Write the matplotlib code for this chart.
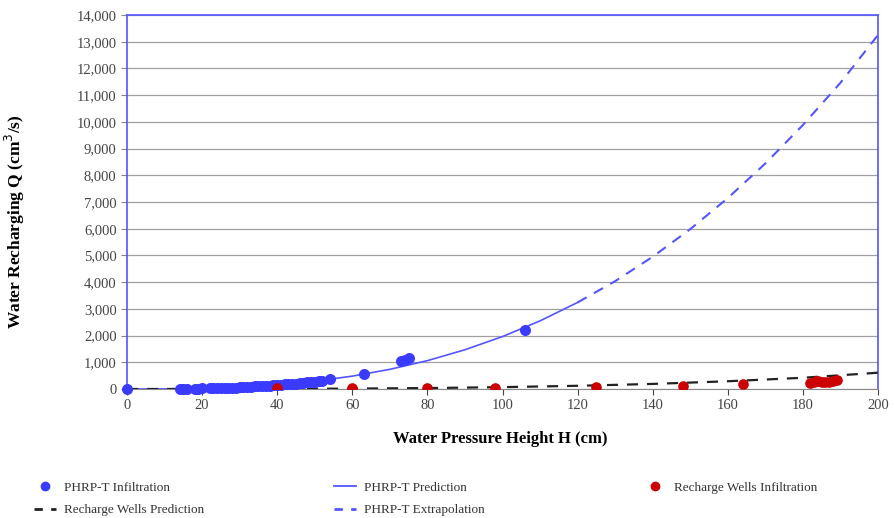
import matplotlib.pyplot as plt
from matplotlib.lines import Line2D
from matplotlib.ticker import FuncFormatter, MultipleLocator

plt.rcParams['font.family'] = ['Liberation Serif', 'DejaVu Serif']

# PHRP-T infiltration measurements (H cm, Q cm3/s)
phrp_h = [0, 14, 15, 16, 18, 19, 20, 22, 23, 24, 25, 26, 27, 28, 29, 30, 31, 32, 33,
          34, 35, 36, 37, 38, 39, 40, 41, 42, 43, 44, 45, 46, 47, 48, 49, 50, 51, 52,
          54, 63, 73, 74, 75, 106]
phrp_q = [0, 10, 12, 14, 15, 18, 20, 25, 28, 30, 35, 40, 45, 50, 55, 62, 70, 78, 85,
          95, 100, 110, 120, 130, 140, 150, 160, 170, 180, 195, 205, 220, 235, 250, 265,
          280, 295, 310, 370, 580, 1050, 1100, 1150, 2200]

# PHRP-T fitted curve: prediction (solid) and extrapolation (dashed)
pred_h = [0, 10, 20, 30, 40, 50, 60, 70, 80, 90, 100, 110, 120]
pred_q = [0, 3.5, 23.5, 72, 158, 292, 481, 736, 1061, 1469, 1963, 2550, 3240]
extr_h = [120, 130, 140, 150, 160, 170, 180, 190, 200]
extr_q = [3240, 4037, 4950, 5984, 7147, 8443, 9880, 11463, 13250]

# Recharge wells
rw_h = [40, 60, 80, 98, 125, 148, 164, 182, 183, 183.5, 184, 185, 186, 187, 188, 189]
rw_q = [30, 40, 30, 40, 70, 100, 190, 230, 260, 290, 300, 270, 260, 280, 300, 330]
rw_pred_h = [0, 20, 40, 60, 80, 100, 120, 140, 160, 180, 200]
rw_pred_q = [0, 1, 5, 15, 35, 70, 120, 190, 290, 420, 610]

fig = plt.figure(figsize=(8.94, 5.18), dpi=100)
ax = fig.add_axes([127/894, 1-389/518, (878-127)/894, (389-15)/518])

blue = '#3b3bff'
red = '#cc0000'
ax.plot(pred_h, pred_q, color='#5555ff', lw=1.2, zorder=3)
ax.plot(extr_h, extr_q, color='#5555ff', lw=1.5, ls=(0, (5, 4)), zorder=3)
ax.plot(rw_pred_h, rw_pred_q, color='#222222', lw=1.6, ls=(0, (5, 4)), zorder=3)
ax.scatter(phrp_h, phrp_q, s=48, color=blue, zorder=4, clip_on=False)
ax.scatter(rw_h, rw_q, s=44, color=red, zorder=4)

ax.set_xlim(0, 200)
ax.set_ylim(0, 14000)
ax.xaxis.set_major_locator(MultipleLocator(20))
ax.yaxis.set_major_locator(MultipleLocator(1000))
ax.yaxis.set_major_formatter(FuncFormatter(lambda v, p: f'{int(v):,}'))
ax.grid(axis='y', color='#a0a0a0', lw=0.9)
ax.set_axisbelow(True)
for s in ['left', 'top', 'right']:
    ax.spines[s].set_color('#5555ff')
    ax.spines[s].set_linewidth(1.2)
ax.spines['bottom'].set_color('#888888')
ax.tick_params(axis='both', labelsize=10.5, colors='#444444', length=4, direction='out')
ax.tick_params(axis='y', color='#888888')

ax.set_ylabel('Water Recharging Q (cm$^3$/s)', fontsize=12.5, fontweight='bold')
ax.yaxis.set_label_coords(-100/751, (389-222)/374)
fig.text(500/894, 1-439/518, 'Water Pressure Height H (cm)', fontsize=12,
         fontweight='bold', ha='center', va='center')

h_inf = Line2D([], [], ls='none', marker='o', ms=6, color=blue)
h_rwp = Line2D([], [], color='#222222', lw=2, ls=(0, (3, 3)))
h_pred = Line2D([], [], color='#5555ff', lw=1.3)
h_ext = Line2D([], [], color='#5555ff', lw=2, ls=(0, (3, 3)))
h_rwi = Line2D([], [], ls='none', marker='o', ms=6, color=red)

kw = dict(frameon=False, fontsize=9.5, handlelength=1.7, handletextpad=0.6,
          labelspacing=0.75, loc='upper left', labelcolor='#333333')
fig.legend([h_inf, h_rwp], ['PHRP-T Infiltration', 'Recharge Wells Prediction'],
           bbox_to_anchor=(22/894, 1-470/518), **kw)
fig.legend([h_pred, h_ext], ['PHRP-T Prediction', 'PHRP-T Extrapolation'],
           bbox_to_anchor=(322/894, 1-470/518), **kw)
fig.legend([h_rwi], ['Recharge Wells Infiltration'],
           bbox_to_anchor=(632/894, 1-470/518), **kw)

fig.savefig('out.png', dpi=100)
